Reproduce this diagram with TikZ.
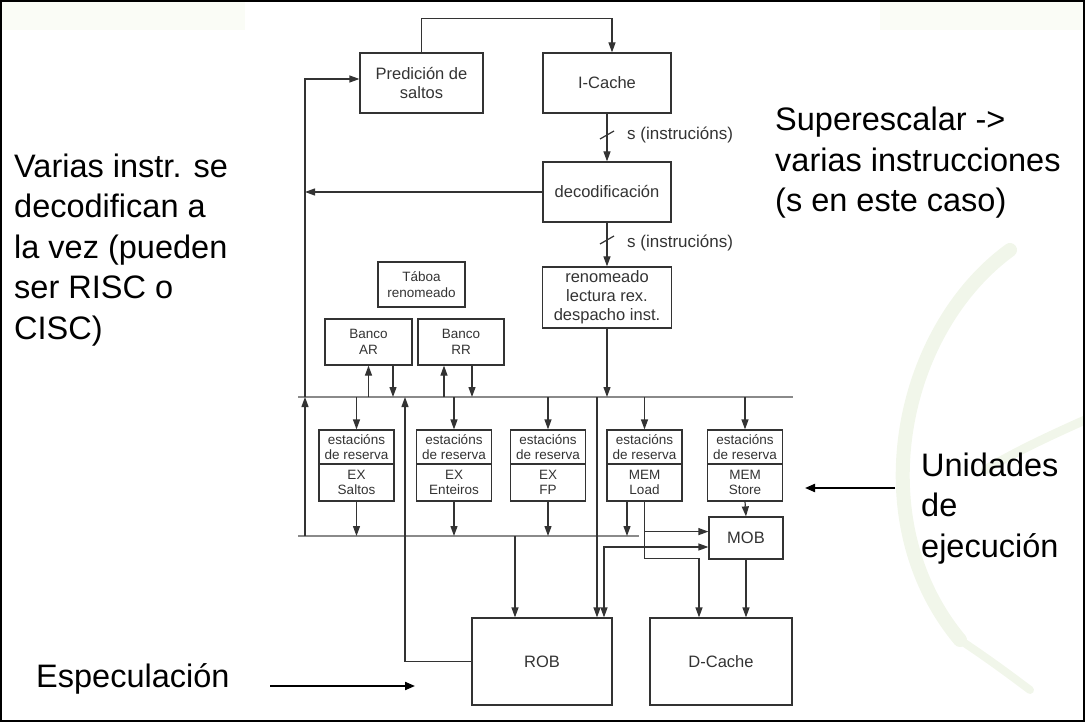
\documentclass[tikz,border=0pt]{standalone}
\usepackage{fontspec}
\setmainfont{Liberation Sans}
\usetikzlibrary{arrows.meta}
\definecolor{dg}{HTML}{333333}
\definecolor{busgray}{HTML}{8A8A8A}
\definecolor{swirl}{HTML}{F1F6EA}
\definecolor{tint}{HTML}{FAFCF6}
\begin{document}
\begin{tikzpicture}[x=1pt,y=-1pt,
  ln/.style={draw=dg, line width=1.2pt},
  arr/.style={ln, -{Triangle[length=10pt,width=7pt]}},
  arrboth/.style={ln, {Triangle[length=10pt,width=7pt]}-{Triangle[length=10pt,width=7pt]}},
  box/.style={draw=dg, line width=1.2pt, inner sep=0pt, align=center, text=dg,
    font=\fontsize{16.5}{19}\selectfont},
  small/.style={box, font=\fontsize{13.5}{15.5}\selectfont},
  rsbox/.style={box, font=\fontsize{13.5}{15}\selectfont, minimum width=75pt},
  bus/.style={draw=busgray, line width=1.3pt},
  lbl/.style={inner sep=0pt, text=dg, font=\fontsize{17}{19}\selectfont},
  side/.style={anchor=base west, align=left, inner sep=0pt,
    font=\fontsize{32.5}{40.5}\selectfont},
  bigarr/.style={draw=black, line width=2pt, -{Triangle[length=10pt,width=8pt]}},
]
\useasboundingbox (0,0) rectangle (1085,722);

% faint background decoration
\fill[tint] (0,0) rectangle (245,30);
\fill[tint] (880,0) rectangle (1085,30);
\draw[swirl, line width=14pt, line cap=round] (1010,250) .. controls (900,330) and (860,520) .. (960,640);
\draw[swirl, line width=9pt, line cap=round] (1085,420) .. controls (1040,440) and (1010,455) .. (985,470);
\draw[swirl, line width=8pt, line cap=round] (960,640) .. controls (990,660) and (1010,675) .. (1030,690);

% page frame
\draw[black, line width=2pt] (1,1) rectangle (1084,721);

% front end
\node[box, minimum width=123pt, minimum height=60pt] (pred) at (421.5,83) {Predición de\\saltos};
\node[box, minimum width=128pt, minimum height=60pt] (icache) at (607,83) {I-Cache};
\node[box, minimum width=128pt, minimum height=60pt] (deco) at (607,192) {decodificación};
\node[box, minimum width=129pt, minimum height=61pt] (ren) at (607,297.5) {renomeado\\lectura rex.\\despacho inst.};
\node[small, minimum width=87pt, minimum height=45pt] (tab) at (421.5,284.5) {Táboa\\renomeado};
\node[small, minimum width=87pt, minimum height=46pt] (bar) at (368.5,342) {Banco\\AR};
\node[small, minimum width=86pt, minimum height=46pt] (brr) at (461,342) {Banco\\RR};

% reservation stations and execution units
\foreach \i/\x/\a/\b in {1/356.5/EX/Saltos, 2/454/EX/Enteiros, 3/548/EX/FP,
                         4/644.5/MEM/Load, 5/745/MEM/Store}{
  \node[rsbox, minimum height=34pt] (rs\i) at (\x,447) {estacións\\de reserva};
  \node[rsbox, minimum height=37pt] (ex\i) at (\x,482.5) {\a\\\b};
}

% back end
\node[box, minimum width=74pt, minimum height=42pt] (mob) at (746,538) {MOB};
\node[box, minimum width=140pt, minimum height=87pt] (rob) at (542,661.5) {ROB};
\node[box, minimum width=142pt, minimum height=87pt] (dc) at (721,661.5) {D-Cache};

% buses
\coordinate (ubL) at (298,397);
\coordinate (ubR) at (793,397);
\coordinate (lbL) at (298,536);
\coordinate (lbR) at (639,536);
\coordinate (fbU) at (305,397);
\coordinate (fbL) at (305,536);
\coordinate (spU) at (405,397);
\draw[bus] (ubL) -- (ubR);
\draw[bus] (lbL) -- (lbR);

% fetch / decode path
\draw[arr] (pred.north) -- ++(0,-34) -| ([xshift=5pt]icache.north);
\draw[arr] (icache.south) -- (deco.north);
\draw[arr] (deco.south) -- (ren.north);
\draw[ln] (600,139) -- (614,131);
\draw[ln] (600,244) -- (614,236);
\node[lbl, anchor=west] (s1) at (627,135) {s (instrucións)};
\node[lbl, anchor=west] (s2) at (627,243) {s (instrucións)};

% branch feedback
\draw[arr] (deco.west) -- (deco.west -| fbU);
\draw[arr] (fbU) |- ([yshift=4pt]pred.west);
\draw[arr] (fbL) -- (fbU);
\draw[arr] (rob.west) -| (spU);

% register banks
\draw[arr] (bar.south |- ubL) -- (bar.south);
\draw[arr] ([xshift=24.5pt]bar.south) -- ([xshift=24.5pt]bar.south |- ubL);
\draw[arr] ([xshift=-17pt]brr.south |- ubL) -- ([xshift=-17pt]brr.south);
\draw[arr] ([xshift=11pt]brr.south) -- ([xshift=11pt]brr.south |- ubL);
\draw[arr] (ren.south) -- (ren.south |- ubL);

% issue and result buses
\foreach \i in {1,...,5}{ \draw[arr] (rs\i.north |- ubL) -- (rs\i.north); }
\foreach \i in {1,2,3}{ \draw[arr] (ex\i.south) -- (ex\i.south |- lbL); }
\draw[arr] ([xshift=-17.5pt]ex4.south) -- ([xshift=-17.5pt]ex4.south |- lbL);
\draw[arr] (ex5.south) -- (mob.north);

% reorder buffer inputs
\draw[arr] ([xshift=-27pt]rob.north |- lbL) -- ([xshift=-27pt]rob.north);
\draw[arr] ([xshift=55pt]rob.north |- ubL) -- ([xshift=55pt]rob.north);
\path (mob.west) ++(0,9) coordinate (mobB);
\draw[arrboth] ([xshift=62pt]rob.north) |- (mobB);

% load path to memory
\draw[arr] (ex4.south) -- ++(0,57) -| ([xshift=-22pt]dc.north);
\path (ex4.south) ++(0,30) coordinate (ldA);
\draw[arr] (ldA) -- (ldA -| mob.west);
\draw[arr] (mob.south) -- (mob.south |- dc.north);

% side notes (anchored at the baseline of the last line)
\node[side] (t1) at (14,339) {Varias instr. se\\decodifican a\\la vez (pueden\\ser RISC o\\CISC)};
\node[side] (t2) at (775,212) {Superescalar ->\\varias instrucciones\\(s en este caso)};
\node[side] (t3) at (921,557) {Unidades\\de\\ejecución};
\node[side] (t4) at (36,687) {Especulación};
\coordinate (a1s) at (270,686);
\coordinate (a1e) at (415,686);
\coordinate (a2s) at (895,488);
\coordinate (a2e) at (805,488);
\draw[bigarr] (a1s) -- (a1e);
\draw[bigarr] (a2s) -- (a2e);
\end{tikzpicture}
\end{document}
